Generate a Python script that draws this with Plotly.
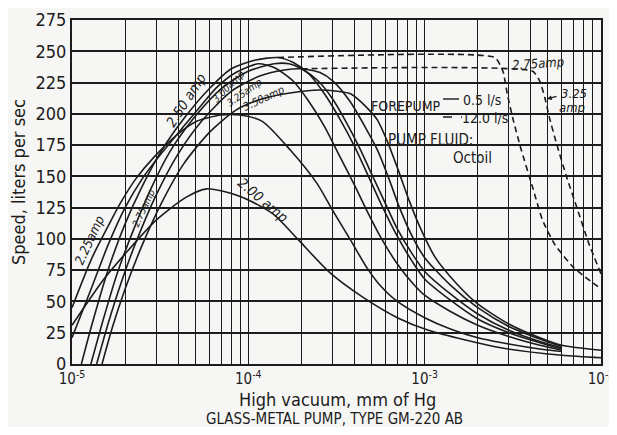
import plotly.graph_objects as go

# ---------------- data (pressure in mm Hg, speed in l/s) ----------------
p_200 = [1e-5, 1.5e-5, 2e-5, 3e-5, 4.4e-5, 5.8e-5, 9e-5, 1.38e-4, 1.9e-4, 2.9e-4, 4.5e-4, 7e-4, 1.05e-3, 2.7e-3, 6e-3, 1e-2]
s_200 = [31, 67, 88, 115, 133, 140, 134, 120, 100, 73, 53, 37, 27, 13, 7, 5]

p_225 = [1e-5, 1.3e-5, 1.6e-5, 1.87e-5, 2.3e-5, 2.9e-5, 4e-5, 5.1e-5, 7e-5, 9e-5, 1.2e-4, 1.73e-4, 2.46e-4, 3e-4, 3.8e-4, 4.7e-4, 5.5e-4, 7e-4, 1e-3, 1.4e-3, 2e-3, 3e-3, 4.5e-3, 6e-3]
s_225 = [45, 85, 110, 128, 148, 165, 184, 194, 199, 199, 194, 171, 144, 123, 99, 77, 64, 50, 37, 28, 21, 16, 12, 10]

p_250 = [1e-5, 1.3e-5, 1.6e-5, 2e-5, 2.5e-5, 3.2e-5, 4.3e-5, 5.5e-5, 6.6e-5, 8.5e-5, 1.14e-4, 1.4e-4, 1.8e-4, 2.2e-4, 2.7e-4, 3.3e-4, 4e-4, 4.8e-4, 5.7e-4, 7e-4, 8.5e-4, 1e-3, 1.4e-3, 2e-3, 3e-3, 4.5e-3, 6e-3]
s_250 = [21, 62, 95, 125, 148, 168, 190, 208, 221, 233, 240, 237, 226, 210, 190, 166, 143, 120, 100, 80, 65, 55, 42, 31, 22, 15, 11]

p_275 = [1.13e-5, 1.3e-5, 1.6e-5, 2e-5, 2.5e-5, 3.2e-5, 4.3e-5, 6e-5, 8e-5, 1.1e-4, 1.47e-4, 1.8e-4, 2.2e-4, 2.7e-4, 3.3e-4, 4e-4, 4.8e-4, 5.7e-4, 7e-4, 8.5e-4, 1e-3, 1.4e-3, 2e-3, 3e-3, 4.5e-3, 6e-3]
s_275 = [0, 32, 75, 112, 142, 170, 196, 220, 236, 243, 245, 241, 232, 216, 196, 174, 150, 127, 102, 82, 68, 51, 36, 25, 17, 12]

p_300 = [1.28e-5, 1.5e-5, 1.8e-5, 2.2e-5, 2.8e-5, 3.6e-5, 5e-5, 7e-5, 1e-4, 1.4e-4, 1.7e-4, 2e-4, 2.5e-4, 3e-4, 3.6e-4, 4.3e-4, 5e-4, 6e-4, 7e-4, 8.5e-4, 1e-3, 1.4e-3, 2e-3, 3e-3, 4.5e-3, 6e-3]
s_300 = [0, 35, 72, 105, 140, 170, 198, 220, 234, 240, 240, 236, 226, 212, 193, 172, 152, 128, 108, 88, 74, 56, 40, 27, 18, 13]

p_325 = [1.38e-5, 1.6e-5, 1.9e-5, 2.3e-5, 3e-5, 4e-5, 5.5e-5, 8e-5, 1.15e-4, 1.6e-4, 2e-4, 2.55e-4, 3.03e-4, 3.77e-4, 4.7e-4, 5.4e-4, 6.2e-4, 7.2e-4, 8.5e-4, 1e-3, 1.4e-3, 2e-3, 3e-3, 4.5e-3, 6e-3]
s_325 = [0, 32, 65, 97, 135, 168, 195, 218, 230, 235, 236, 233, 226, 210, 187, 171, 150, 125, 102, 85, 63, 45, 30, 20, 14]

p_350 = [1.48e-5, 1.7e-5, 2e-5, 2.5e-5, 3.2e-5, 4.3e-5, 6e-5, 8.5e-5, 1.2e-4, 1.8e-4, 2.5e-4, 3.2e-4, 3.8e-4, 4.7e-4, 5.4e-4, 6.1e-4, 7e-4, 8.2e-4, 9.5e-4, 1.15e-3, 1.5e-3, 2e-3, 3e-3, 4.5e-3, 6e-3, 1e-2]
s_350 = [0, 30, 60, 95, 128, 160, 185, 203, 212, 217, 219, 218, 216, 205, 195, 179, 157, 130, 108, 85, 65, 48, 32, 21, 15, 11]

# forepump 12.0 l/s (dashed)
p_275_fp12 = [1.47e-4, 2.5e-3, 2.78e-3, 2.94e-3, 3.18e-3, 3.5e-3, 4.1e-3, 4.66e-3, 5.5e-3, 7e-3, 1e-2]
s_275_fp12 = [245, 245, 234, 216, 195, 173, 141, 115, 95, 77, 60]

p_325_fp12 = [2e-4, 4.1e-3, 4.5e-3, 4.8e-3, 5.1e-3, 5.6e-3, 6.4e-3, 7.3e-3, 8.5e-3, 1e-2]
s_325_fp12 = [236, 234, 226, 213, 197, 176, 149, 125, 97, 72]

# axis ticks
x_decades = [1e-5, 1e-4, 1e-3, 1e-2]
x_decade_labels = ["10<sup>-5</sup>", "10<sup>-4</sup>", "10<sup>-3</sup>", "10<sup>-2</sup>"]
y_ticks = [0, 25, 50, 75, 100, 125, 150, 175, 200, 225, 250, 275]
y_tick_labels = [str(v) for v in y_ticks]

# ---------------- styling ----------------
INK = "#1c1c1c"
BG = "#f6f6f4"
FONT = "DejaVu Sans Condensed, Liberation Sans Narrow, DejaVu Sans, sans-serif"

# the page puts the figure 8 px in from the window's top-left corner
OFF = 8
W, H = 617 - OFF, 435 - 2 * OFF
L, T = 72 - OFF, 20 - OFF
PW, PH = 529, 344
R, B = W - L - PW, H - T - PH


def P(px, py):
    """pixel position in the window -> paper coordinates"""
    return (px - OFF - L) / PW, (T + PH - (py - OFF)) / PH


fig = go.Figure()

solid = [(p_200, s_200), (p_225, s_225), (p_250, s_250), (p_275, s_275),
         (p_300, s_300), (p_325, s_325), (p_350, s_350)]
for p, s in solid:
    fig.add_trace(go.Scatter(x=p, y=s, mode="lines", hoverinfo="skip", showlegend=False,
                             line=dict(color=INK, width=1.6, shape="spline", smoothing=0.7)))

for p, s in [(p_275_fp12, s_275_fp12), (p_325_fp12, s_325_fp12)]:
    fig.add_trace(go.Scatter(x=p, y=s, mode="lines", hoverinfo="skip", showlegend=False,
                             line=dict(color=INK, width=1.6, dash="6px,4px", shape="spline", smoothing=0.5)))

# log grid ticks: decades labelled, 2..9 unlabelled
x_tickvals, x_ticktext = [], []
for d, lab in zip(x_decades, x_decade_labels):
    x_tickvals.append(d)
    x_ticktext.append(lab)
    if d < 1e-2:
        for m in range(2, 10):
            x_tickvals.append(m * d)
            x_ticktext.append(" ")

fig.update_xaxes(type="log", range=[-5, -2], tickvals=x_tickvals, ticktext=x_ticktext,
                 automargin=False, tickangle=0, ticklabeloverflow="allow",
                 showgrid=True, gridcolor=INK, gridwidth=1.1, zeroline=False,
                 showline=True, mirror=True, linecolor=INK, linewidth=2, ticks="",
                 tickfont=dict(family=FONT, size=15, color=INK))
fig.update_yaxes(range=[0, 275], tickvals=y_ticks, ticktext=y_tick_labels,
                 automargin=False,
                 showgrid=True, gridcolor=INK, gridwidth=1.6, zeroline=False,
                 showline=True, mirror=True, linecolor=INK, linewidth=2, ticks="",
                 tickfont=dict(family=FONT, size=18, color=INK))

# masks behind texts (above grid, below curves)
shapes = []
for x0, y0, x1, y1 in [(372, 92, 512, 126), (378, 128, 486, 150), (440, 148, 502, 168),
                       (505, 54, 573, 72), (553, 84, 593, 114)]:
    a0, b0 = P(x0, y1)
    a1, b1 = P(x1, y0)
    shapes.append(dict(type="rect", xref="paper", yref="paper", x0=a0, y0=b0, x1=a1, y1=b1,
                       fillcolor=BG, line=dict(width=0), layer="between"))
# legend line samples
for (x0, x1, y, dash) in [(443, 459, 99, "solid"), (443, 462, 117, "dash")]:
    a0, b = P(x0, y)
    a1, _ = P(x1, y)
    shapes.append(dict(type="line", xref="paper", yref="paper", x0=a0, y0=b, x1=a1, y1=b,
                       line=dict(color=INK, width=1.4, dash=dash), layer="above"))

annotations = []


def txt(text, px, py, size=12, angle=0, italic=False, anchor="center"):
    x, y = P(px, py)
    if italic:
        text = "<i>" + text + "</i>"
    annotations.append(dict(text=text, x=x, y=y, xref="paper", yref="paper", showarrow=False,
                            textangle=angle, xanchor=anchor, yanchor="middle",
                            font=dict(family=FONT, size=size, color=INK)))


# curve labels
txt("2.50 amp", 186, 100, 14, -57, True)
txt("3.00amp", 228, 86, 10, -45, True)
txt("3.25amp", 244, 92, 10, -35, True)
txt("3.50amp", 264, 99, 11, -25, True)
txt("2.25amp", 89, 240, 13, -65, True)
txt("2.75amp", 143, 208, 10, -65, True)
txt("2.00 amp", 263, 200, 14, 40, True)
txt("2.75amp", 538, 63, 13, -4, True)
txt("3.25", 574, 93, 13, 0, True)
txt("amp", 572, 107, 13, 0, True)

# forepump note
txt("FOREPUMP", 406, 106, 14)
txt("0.5 l/s", 482, 100, 14)
txt("12.0 l/s", 485, 118, 14)
txt("PUMP FLUID:", 430, 140, 15)
txt("Octoil", 472, 158, 15)

# axis titles and caption
txt("Speed, liters per sec", 19, 182, 18, -90)
txt("High vacuum, mm of Hg", 337, 399, 18)
txt("GLASS-METAL PUMP, TYPE GM-220 AB", 334, 419, 15)

# arrow pointing at dashed 3.25 curve
ax_, ay_ = P(547, 99)
annotations.append(dict(x=ax_, y=ay_, xref="paper", yref="paper", text="", showarrow=True,
                        arrowhead=2, arrowsize=0.8, arrowwidth=1.2, arrowcolor=INK,
                        ax=11, ay=-3))

fig.update_layout(width=W, height=H, margin=dict(l=L, r=R, t=T, b=B, autoexpand=False),
                  paper_bgcolor=BG, plot_bgcolor=BG,
                  shapes=shapes, annotations=annotations,
                  font=dict(family=FONT, color=INK))

fig.write_html("out.html")
